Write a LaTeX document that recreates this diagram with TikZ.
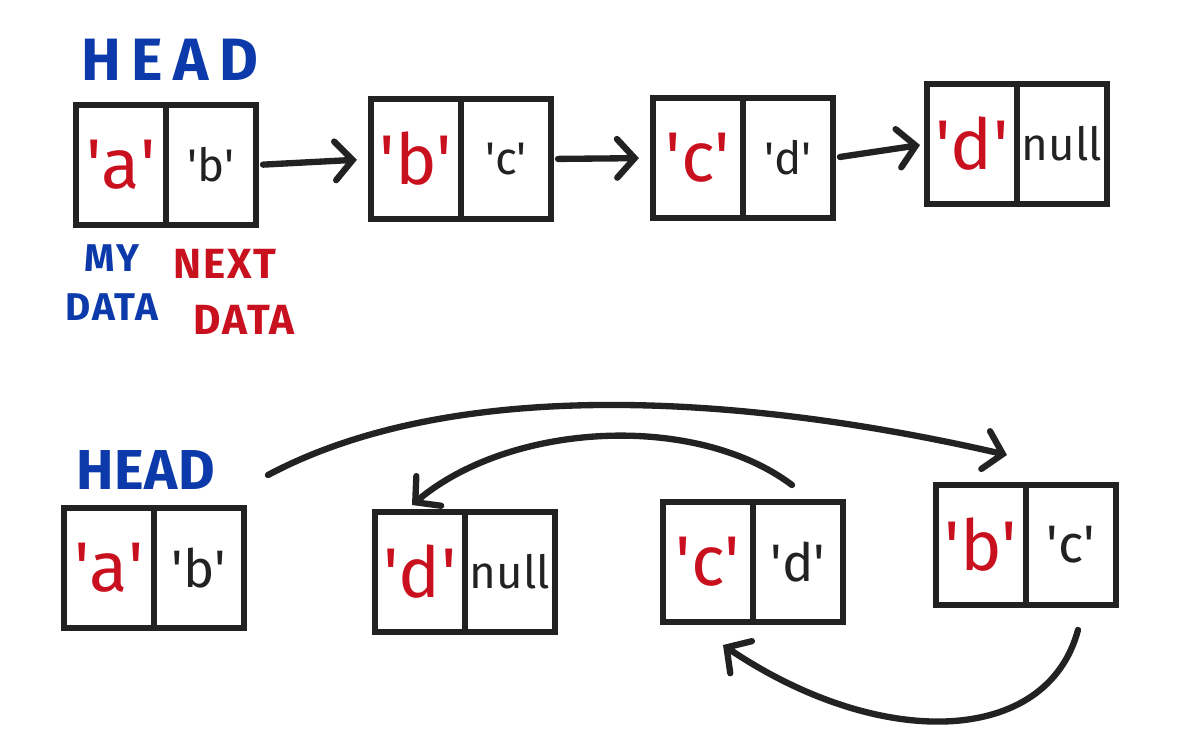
\documentclass[tikz,border=0pt]{standalone}
\usepackage{fontspec}
\setmainfont{Fira Sans}
\newfontfamily\headfont{Fira Sans}[LetterSpace=18]
\newfontfamily\headfontb{Fira Sans}[LetterSpace=1]
\newfontfamily\tagfont{Fira Sans}[LetterSpace=4]
\usetikzlibrary{positioning,arrows.meta}

\definecolor{ink}{RGB}{34,34,34}
\definecolor{headblue}{RGB}{12,58,170}
\definecolor{datared}{RGB}{200,16,30}

\newcommand{\q}[1]{\textquotesingle#1\textquotesingle}
\newcommand{\nul}{{\fontsize{13}{15}\selectfont null}}

\tikzset{
  cell/.style={draw=ink, line width=1.8pt, minimum width=0.9cm, minimum height=1.2cm,
    outer sep=0pt, inner sep=0pt},
  val/.style={cell, text=datared, font=\fontsize{20}{22}\selectfont},
  ptr/.style={cell, text=ink, font=\fontsize{15}{17}\selectfont},
  smallptr/.style={ptr, font=\fontsize{13}{15}\selectfont},
  link/.style={draw=ink, line width=1.8pt, line cap=round,
    -{Straight Barb[length=5pt,width=11pt,line cap=round]}},
}

\begin{document}
\begin{tikzpicture}
\useasboundingbox (0,0) rectangle (11.82,7.56);

% Top list
\node[text=headblue, font=\fontsize{17}{19}\headfont\bfseries] (head1) at (1.70,6.96) {HEAD};
\node[val] (t1d) at (1.21,5.91) {\q{a}};
\node[smallptr, right=0pt of t1d] (t1n) {\q{b}};
\node[val] (t2d) at (4.16,5.97) {\q{b}};
\node[smallptr, right=0pt of t2d] (t2n) {\q{c}};
\node[val] (t3d) at (6.98,5.98) {\q{c}};
\node[smallptr, right=0pt of t3d] (t3n) {\q{d}};
\node[val] (t4d) at (9.72,6.12) {\q{d}};
\node[ptr, right=0pt of t4d] (t4n) {\nul};

\node[text=headblue, font=\fontsize{11}{14}\tagfont\bfseries, align=center] (mydata) at (1.12,4.73) {MY\\DATA};
\node[text=datared, font=\fontsize{12}{16}\tagfont\bfseries, align=left] (nextdata) at (2.34,4.64) {NEXT\\\hspace*{0.2cm}DATA};

\draw[link, shorten <=2pt, shorten >=4pt] (t1n.east) -- (t2d.west);
\draw[link, shorten <=2pt, shorten >=4pt] (t2n.east) -- (t3d.west);
\draw[link, shorten <=2pt, shorten >=2pt] (t3n.east) -- (t4d.west);

% Bottom list
\node[text=headblue, font=\fontsize{16}{18}\headfontb\bfseries] (head2) at (1.46,2.86) {HEAD};
\node[val] (b1d) at (1.09,1.88) {\q{a}};
\node[ptr, right=0pt of b1d] (b1n) {\q{b}};
\node[val] (b2d) at (4.20,1.84) {\q{d}};
\node[ptr, right=0pt of b2d] (b2n) {\nul};
\node[val] (b3d) at (7.08,1.94) {\q{c}};
\node[ptr, right=0pt of b3d] (b3n) {\q{d}};
\node[val] (b4d) at (9.81,2.11) {\q{b}};
\node[ptr, right=0pt of b4d] (b4n) {\q{c}};

\coordinate (hstart) at (2.68,2.81);
\draw[link] (hstart) .. controls +(28:2.2) and +(167:2.5) .. ([shift={(-0.19,0.30)}]b4d.north east);
\draw[link] ([shift={(-0.06,0.17)}]b3n.north) .. controls +(143:1.2) and +(40:1.3) .. ([shift={(-0.08,0.07)}]b2d.north);
\draw[link] ([shift={(0.07,-0.25)}]b4n.south) .. controls +(-105:1.2) and +(-34:1.9) .. ([shift={(0.15,-0.23)}]b3d.south);

\end{tikzpicture}
\end{document}
